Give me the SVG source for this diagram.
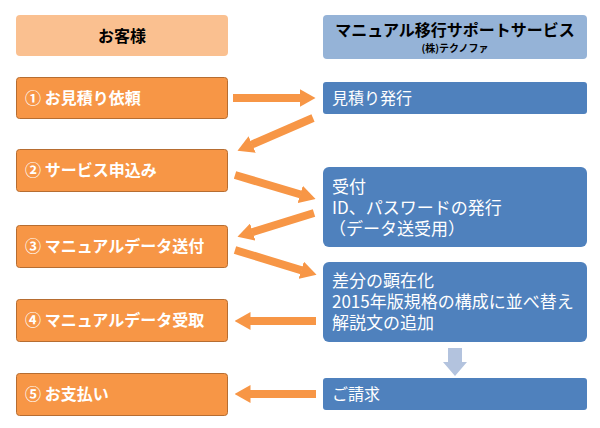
<svg xmlns="http://www.w3.org/2000/svg" width="600" height="428" viewBox="0 0 600 428">
<style>
text{font-family:"Noto Sans CJK JP","Noto Sans",sans-serif}
.lhead{fill:#FAC090}
.rhead{fill:#95B3D7}
.cust{fill:#F79646;stroke:#B66D31;stroke-width:1}
.svc{fill:#4F81BD}
.ct{fill:#fff;font-size:16px;font-weight:bold}
.st{fill:#fff;font-size:16px}
.mt{fill:#fff;font-size:17px}
.ht{fill:#000;font-weight:bold;text-anchor:middle}
.arr{stroke:#F79646;stroke-width:8;fill:none;marker-end:url(#ah)}
</style>
<defs>
<marker id="ah" viewBox="0 0 16 18" markerWidth="16" markerHeight="18" markerUnits="userSpaceOnUse" refX="0.5" refY="9" orient="auto">
<path d="M0,0 L16,9 L0,18 z" fill="#F79646"/>
</marker>
</defs>
<g id="header-customer">
<rect class="lhead" x="16" y="15" width="212" height="41" rx="4"/>
<text class="ht" x="122" y="42" font-size="16">お客様</text>
</g>
<g id="header-service">
<rect class="rhead" x="323" y="15" width="264" height="44" rx="4"/>
<text class="ht" font-size="16"><tspan x="455" y="36">マニュアル移行サポートサービス</tspan><tspan x="455" y="52" font-size="10">(株)テクノファ</tspan></text>
</g>
<g id="c1"><rect class="cust" x="16.5" y="77.5" width="211" height="41" rx="3"/><text class="ct" x="25" y="104">① お見積り依頼</text></g>
<g id="c2"><rect class="cust" x="16.5" y="149.5" width="211" height="42" rx="3"/><text class="ct" x="25" y="176">② サービス申込み</text></g>
<g id="c3"><rect class="cust" x="16.5" y="225.5" width="211" height="42" rx="3"/><text class="ct" x="25" y="252">③ マニュアルデータ送付</text></g>
<g id="c4"><rect class="cust" x="16.5" y="299.5" width="211" height="42" rx="3"/><text class="ct" x="25" y="326">④ マニュアルデータ受取</text></g>
<g id="c5"><rect class="cust" x="16.5" y="373.5" width="211" height="42" rx="3"/><text class="ct" x="25" y="400">⑤ お支払い</text></g>
<g id="s1"><rect class="svc" x="323" y="82" width="264" height="32" rx="3"/><text class="st" x="332" y="104">見積り発行</text></g>
<g id="s2"><rect class="svc" x="323" y="167" width="264" height="80" rx="6"/>
<text class="mt"><tspan x="332" y="193">受付</tspan><tspan x="332" y="214">ID、パスワードの発行</tspan><tspan x="329" y="235">（データ送受用）</tspan></text></g>
<g id="s3"><rect class="svc" x="323" y="262" width="264" height="80" rx="6"/>
<text class="mt"><tspan x="332" y="287">差分の顕在化</tspan><tspan x="332" y="308">2015年版規格の構成に並べ替え</tspan><tspan x="332" y="329">解説文の追加</tspan></text></g>
<g id="s4"><rect class="svc" x="323" y="378" width="264" height="32" rx="3"/><text class="st" x="332" y="400">ご請求</text></g>
<g id="connectors">
<line class="arr" x1="233" y1="98" x2="300" y2="98"/>
<line class="arr" x1="313" y1="118" x2="251.7" y2="144.6"/>
<line class="arr" x1="235" y1="175" x2="300.7" y2="194.5"/>
<line class="arr" x1="314" y1="213" x2="252.3" y2="232.2"/>
<line class="arr" x1="235" y1="250" x2="301.7" y2="270.3"/>
<line class="arr" x1="316" y1="321" x2="250" y2="321"/>
<line class="arr" x1="316" y1="394" x2="250" y2="394"/>
<path d="M448,348 H462 V362 H467 L455,376 L443,362 H448 Z" fill="#B3C3DE"/>
</g>
</svg>
